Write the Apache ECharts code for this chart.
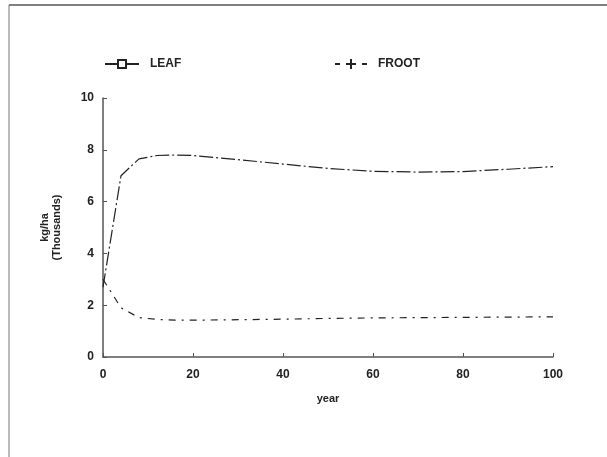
<!DOCTYPE html>
<html>
<head>
<meta charset="utf-8">
<script src="https://cdn.jsdelivr.net/npm/echarts@6/dist/echarts.min.js"></script>
<style>
  html, body { margin: 0; padding: 0; background: #fff; }
  #chart { width: 607px; height: 457px; }
</style>
</head>
<body>
<div id="chart"></div>
<script>
// values (kg/ha, thousands)
const years = [0, 4, 8, 12, 16, 20, 30, 40, 50, 60, 70, 80, 90, 100];
const leaf = [2.7, 7.0, 7.65, 7.78, 7.8, 7.78, 7.62, 7.45, 7.28, 7.17, 7.14, 7.16, 7.25, 7.35];
const froot = [3.0, 1.9, 1.52, 1.45, 1.42, 1.42, 1.44, 1.46, 1.49, 1.51, 1.52, 1.53, 1.54, 1.55];
const yTicks = [0, 2, 4, 6, 8, 10];
const xTicks = [0, 20, 40, 60, 80, 100];

const font = 'Liberation Sans, Arial, sans-serif';
const ink = '#222';

// legend glyphs: line with open square, and "- + -"
const leafIcon = 'path://M0,4h12v2h-12z M12,0h10v10h-10z M14,2v6h6v-6z M22,4h12v2h-12z';
const frootIcon = 'path://M0,4h5v2h-5z M11,4h10v2h-10z M15,0h2v10h-2z M27,4h5v2h-5z';

const legendText = { fontFamily: font, fontWeight: 'bold', fontSize: 12, color: ink, padding: [0, 0, 0, 6] };

const chart = echarts.init(document.getElementById('chart'));

chart.setOption({
  animation: false,
  backgroundColor: '#fff',
  grid: { left: 103, right: 54, top: 98, bottom: 100 },
  legend: [
    {
      left: 100, top: 53, itemWidth: 34, itemHeight: 10,
      textStyle: legendText,
      data: [{ name: 'LEAF', icon: leafIcon }]
    },
    {
      left: 330, top: 53, itemWidth: 32, itemHeight: 10,
      textStyle: legendText,
      data: [{ name: 'FROOT', icon: frootIcon }]
    }
  ],
  xAxis: {
    type: 'value',
    min: 0, max: 100, interval: 20,
    name: 'year',
    nameLocation: 'middle',
    nameGap: 36,
    nameTextStyle: { fontFamily: font, fontWeight: 'bold', fontSize: 11, color: ink },
    axisLine: { lineStyle: { color: '#555', width: 1.5 } },
    axisTick: { inside: true, length: 4, lineStyle: { color: '#555' } },
    axisLabel: {
      fontFamily: font, fontWeight: 'bold', fontSize: 12, color: ink, margin: 12,
      formatter: v => xTicks.includes(v) ? String(v) : ''
    },
    splitLine: { show: false }
  },
  yAxis: {
    type: 'value',
    min: 0, max: 10, interval: 2,
    name: 'kg/ha\n(Thousands)',
    nameLocation: 'middle',
    nameGap: 40,
    nameRotate: 90,
    nameTextStyle: { fontFamily: font, fontWeight: 'bold', fontSize: 11, color: ink, lineHeight: 12 },
    axisLine: { show: true, lineStyle: { color: '#555', width: 1.5 } },
    axisTick: { show: true, inside: true, length: 4, lineStyle: { color: '#555' } },
    axisLabel: {
      fontFamily: font, fontWeight: 'bold', fontSize: 12, color: ink, margin: 9,
      formatter: v => yTicks.includes(v) ? String(v) : ''
    },
    splitLine: { show: false }
  },
  series: [
    {
      name: 'LEAF',
      type: 'line',
      data: years.map((y, i) => [y, leaf[i]]),
      showSymbol: false,
      itemStyle: { color: ink },
      lineStyle: { color: ink, width: 1.2, type: [14, 3, 2, 3] }
    },
    {
      name: 'FROOT',
      type: 'line',
      data: years.map((y, i) => [y, froot[i]]),
      showSymbol: false,
      itemStyle: { color: ink },
      lineStyle: { color: ink, width: 1.2, type: [7, 6, 2, 6] }
    }
  ],
  graphic: [
    { type: 'line', shape: { x1: 9, y1: 5, x2: 607, y2: 5 }, style: { stroke: '#555', lineWidth: 1.5 } },
    { type: 'line', shape: { x1: 9, y1: 5, x2: 9, y2: 457 }, style: { stroke: '#777', lineWidth: 1 } }
  ]
});
</script>
</body>
</html>
